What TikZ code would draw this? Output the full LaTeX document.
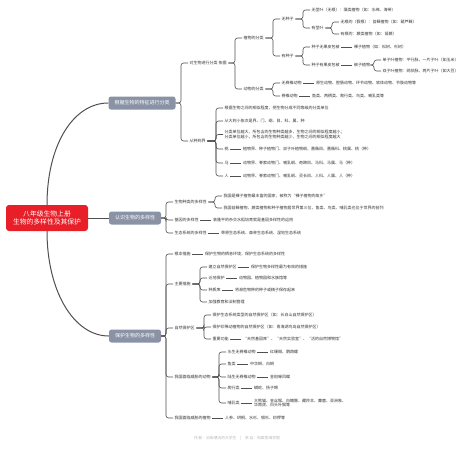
\documentclass[tikz,border=0pt]{standalone}
\usepackage{fontspec}
\setmainfont{Noto Sans CJK SC}
\usetikzlibrary{positioning}
\definecolor{rootred}{RGB}{232,30,40}
\definecolor{branchgrey}{RGB}{138,147,166}
\definecolor{linegrey}{RGB}{80,80,80}
\definecolor{textgrey}{RGB}{51,51,51}
\definecolor{footgrey}{RGB}{185,185,185}

\tikzset{
  leaf/.style={anchor=west,inner sep=1.5pt,text=textgrey,font=\fontsize{4}{4.9}\selectfont},
  branch/.style={fill=branchgrey,text=white,rounded corners=2.5pt,inner xsep=6pt,minimum height=13pt,font=\fontsize{5}{6}\selectfont},
  link/.style={draw=linegrey,line width=0.6pt,rounded corners=2.5pt},
  mainlink/.style={draw=linegrey,line width=1pt},
}

\begin{document}
\begin{tikzpicture}[x=1pt,y=-1pt]
    \fill[white] (0,0) rectangle (474,448);
    \useasboundingbox (0,0) rectangle (474,448);

    % root and the three main branches
    \node[fill=rootred,text=white,rounded corners=3pt,minimum width=82pt,minimum height=26pt,align=center,font=\fontsize{6.8}{8.8}\selectfont] (root) at (47,218) {八年级生物上册\\生物的多样性及其保护};
    \node[branch] (cls) at (142,103) {根据生物的特征进行分类};
    \node[branch] (know) at (135,218) {认识生物的多样性};
    \node[branch] (prot) at (135,336) {保护生物的多样性};

    \draw[mainlink] (root.north) .. controls +(0,-60) and +(-35,0) .. (cls.west);
    \draw[mainlink] (root.east) -- (know.west);
    \draw[mainlink] (root.south) .. controls +(0,60) and +(-35,0) .. (prot.west);

    % classification
    \node[leaf] (how) at (188,63) {对生物进行分类\ 依据};
    \node[leaf] (rank) at (188,141) {从种到界};
    \foreach \c in {how,rank}
        \draw[link] (cls.east) -| ([xshift=-7pt]\c.west) -- (\c.west);

    \node[leaf] (plant) at (242,38) {植物的分类};
    \node[leaf] (animal) at (242,89) {动物的分类};
    \foreach \c in {plant,animal}
        \draw[link] (how.east) -| ([xshift=-7pt]\c.west) -- (\c.west);

    \node[leaf] (noseed) at (280,19) {无种子};
    \node[leaf] (seed) at (280,56) {有种子};
    \foreach \c in {noseed,seed}
        \draw[link] (plant.east) -| ([xshift=-7pt]\c.west) -- (\c.west);

    \node[leaf] (nostem) at (310,10) {无茎叶（无根）：藻类植物（如：水绵、海带）};
    \node[leaf] (stem) at (310,28) {有茎叶};
    \foreach \c in {nostem,stem}
        \draw[link] (noseed.east) -| ([xshift=-7pt]\c.west) -- (\c.west);

    \node[leaf] (moss) at (339,22) {无根的（假根）：苔藓植物（如：葫芦藓）};
    \node[leaf] (fern) at (339,34) {有根的：蕨类植物（如：肾蕨）};
    \foreach \c in {moss,fern}
        \draw[link] (stem.east) -| ([xshift=-7pt]\c.west) -- (\c.west);

    \node[leaf] (bare) at (310,47) {种子无果皮包被};
    \node[leaf,right=11pt of bare] (gymno) {裸子植物（如：松树、杉树）};
    \node[leaf] (wrapped) at (310,65) {种子有果皮包被};
    \node[leaf,right=11pt of wrapped] (angio) {被子植物};
    \foreach \c in {bare,wrapped}
        \draw[link] (seed.east) -| ([xshift=-7pt]\c.west) -- (\c.west);
    \draw[link] (bare) -- (gymno);
    \draw[link] (wrapped) -- (angio);

    \node[leaf] (mono) at (381,60) {单子叶植物：平行脉，一片子叶（如玉米）};
    \node[leaf] (dicot) at (381,71) {双子叶植物：网状脉，两片子叶（如大豆）};
    \foreach \c in {mono,dicot}
        \draw[link] (angio.east) -| ([xshift=-7pt]\c.west) -- (\c.west);

    \node[leaf] (invert) at (280,83) {无脊椎动物};
    \node[leaf,right=11pt of invert] (invlist) {原生动物、腔肠动物、环节动物、软体动物、节肢动物等};
    \node[leaf] (vert) at (280,96) {脊椎动物};
    \node[leaf,right=11pt of vert] (vertlist) {鱼类、两栖类、爬行类、鸟类、哺乳类等};
    \foreach \c in {invert,vert}
        \draw[link] (animal.east) -| ([xshift=-7pt]\c.west) -- (\c.west);
    \draw[link] (invert) -- (invlist);
    \draw[link] (vert) -- (vertlist);

    \node[leaf] (alike) at (223,108) {根据生物之间的相似程度，把生物分成不同等级的分类单位};
    \node[leaf] (order) at (223,121) {从大到小依次是界、门、纲、目、科、属、种};
    \node[leaf,align=left] (size) at (223,134.5) {分类单位越大，所包含的生物种类越多，生物之间的相似程度越小；\\分类单位越小，所包含的生物种类越少，生物之间的相似程度越大};
    \node[leaf] (peach) at (223,149) {桃};
    \node[leaf,right=11pt of peach] (peachrank) {植物界、种子植物门、双子叶植物纲、蔷薇目、蔷薇科、桃属、桃（种）};
    \node[leaf] (horse) at (223,163) {马};
    \node[leaf,right=11pt of horse] (horserank) {动物界、脊索动物门、哺乳纲、奇蹄目、马科、马属、马（种）};
    \node[leaf] (human) at (223,176) {人};
    \node[leaf,right=11pt of human] (humanrank) {动物界、脊索动物门、哺乳纲、灵长目、人科、人属、人（种）};
    \foreach \c in {alike,order,size,peach,horse,human}
        \draw[link] (rank.east) -| ([xshift=-7pt]\c.west) -- (\c.west);
    \draw[link] (peach) -- (peachrank);
    \draw[link] (horse) -- (horserank);
    \draw[link] (human) -- (humanrank);

    % diversity
    \node[leaf] (species) at (173,202) {生物种类的多样性};
    \node[leaf] (gene) at (173,220) {基因的多样性};
    \node[leaf,right=11pt of gene] (genenote) {袁隆平的杂交水稻培育就是基因多样性的运用};
    \node[leaf] (eco) at (173,233) {生态系统的多样性};
    \node[leaf,right=11pt of eco] (econote) {草原生态系统、森林生态系统、湿地生态系统};
    \foreach \c in {species,gene,eco}
        \draw[link] (know.east) -| ([xshift=-7pt]\c.west) -- (\c.west);
    \draw[link] (gene) -- (genenote);
    \draw[link] (eco) -- (econote);

    \node[leaf] (homeland) at (222,196) {我国是裸子植物最丰富的国家，被称为“裸子植物的故乡”};
    \node[leaf] (front) at (222,208) {我国苔藓植物、蕨类植物和种子植物居世界第三位，鱼类、鸟类、哺乳类也位于世界的前列};
    \foreach \c in {homeland,front}
        \draw[link] (species.east) -| ([xshift=-7pt]\c.west) -- (\c.west);

    % protection
    \node[leaf] (basic) at (173,254) {根本措施};
    \node[leaf,right=11pt of basic] (basicnote) {保护生物的栖息环境，保护生态系统的多样性};
    \node[leaf] (major) at (173,284) {主要措施};
    \node[leaf] (nature) at (173,328) {自然保护区};
    \node[leaf] (animals) at (173,377) {我国面临威胁的动物};
    \node[leaf] (plants) at (173,418) {我国面临威胁的植物};
    \node[leaf,right=11pt of plants] (plantlist) {人参、珙桐、水杉、银杉、桫椤等};
    \foreach \c in {basic,major,nature,animals,plants}
        \draw[link] (prot.east) -| ([xshift=-7pt]\c.west) -- (\c.west);
    \draw[link] (basic) -- (basicnote);
    \draw[link] (plants) -- (plantlist);

    \node[leaf] (reserve) at (207,267) {建立自然保护区};
    \node[leaf,right=11pt of reserve] (reservenote) {保护生物多样性最为有效的措施};
    \node[leaf] (exsitu) at (207,278) {迁地保护};
    \node[leaf,right=11pt of exsitu] (exsitunote) {动物园、植物园和水族馆等};
    \node[leaf] (bank) at (207,290) {种质库};
    \node[leaf,right=11pt of bank] (banknote) {将濒危物种的种子或精子保存起来};
    \node[leaf] (law) at (207,302) {加强教育和法制管理};
    \foreach \c in {reserve,exsitu,bank,law}
        \draw[link] (major.east) -| ([xshift=-7pt]\c.west) -- (\c.west);
    \draw[link] (reserve) -- (reservenote);
    \draw[link] (exsitu) -- (exsitunote);
    \draw[link] (bank) -- (banknote);

    \node[leaf] (ecotype) at (211,315) {保护生态系统类型的自然保护区（如：长白山自然保护区）};
    \node[leaf] (rare) at (211,327) {保护珍稀动植物的自然保护区（如：青海湖鸟岛自然保护区）};
    \node[leaf] (role) at (211,339) {重要功能};
    \node[leaf,right=11pt of role] (rolenote) {“天然基因库”、“天然实验室”、“活的自然博物馆”};
    \foreach \c in {ecotype,rare,role}
        \draw[link] (nature.east) -| ([xshift=-7pt]\c.west) -- (\c.west);
    \draw[link] (role) -- (rolenote);

    \node[leaf] (water) at (226,352) {水生无脊椎动物};
    \node[leaf,right=11pt of water] (waterlist) {红珊瑚、鹦鹉螺};
    \node[leaf] (fish) at (226,364) {鱼类};
    \node[leaf,right=11pt of fish] (fishlist) {中华鲟、白鲟};
    \node[leaf] (land) at (226,377) {陆生无脊椎动物};
    \node[leaf,right=11pt of land] (landlist) {金斑喙凤蝶};
    \node[leaf] (reptile) at (226,388) {爬行类};
    \node[leaf,right=11pt of reptile] (reptilelist) {蟒蛇、扬子鳄};
    \node[leaf] (mammal) at (226,403) {哺乳类};
    \node[leaf,right=11pt of mammal,align=left] (mammallist) {大熊猫、金丝猴、白鳍豚、藏羚羊、麋鹿、亚洲象、\\华南虎、白头叶猴等};
    \foreach \c in {water,fish,land,reptile,mammal}
        \draw[link] (animals.east) -| ([xshift=-7pt]\c.west) -- (\c.west);
    \foreach \a/\b in {water/waterlist,fish/fishlist,land/landlist,reptile/reptilelist,mammal/mammallist}
        \draw[link] (\a) -- (\b);

    \node[text=footgrey,font=\fontsize{3.8}{4.5}\selectfont] (foot) at (237,438) {作\,者：沿街潮流的大学生\quad{}|\quad{}来\,自：知犀思维导图};
\end{tikzpicture}
\end{document}
